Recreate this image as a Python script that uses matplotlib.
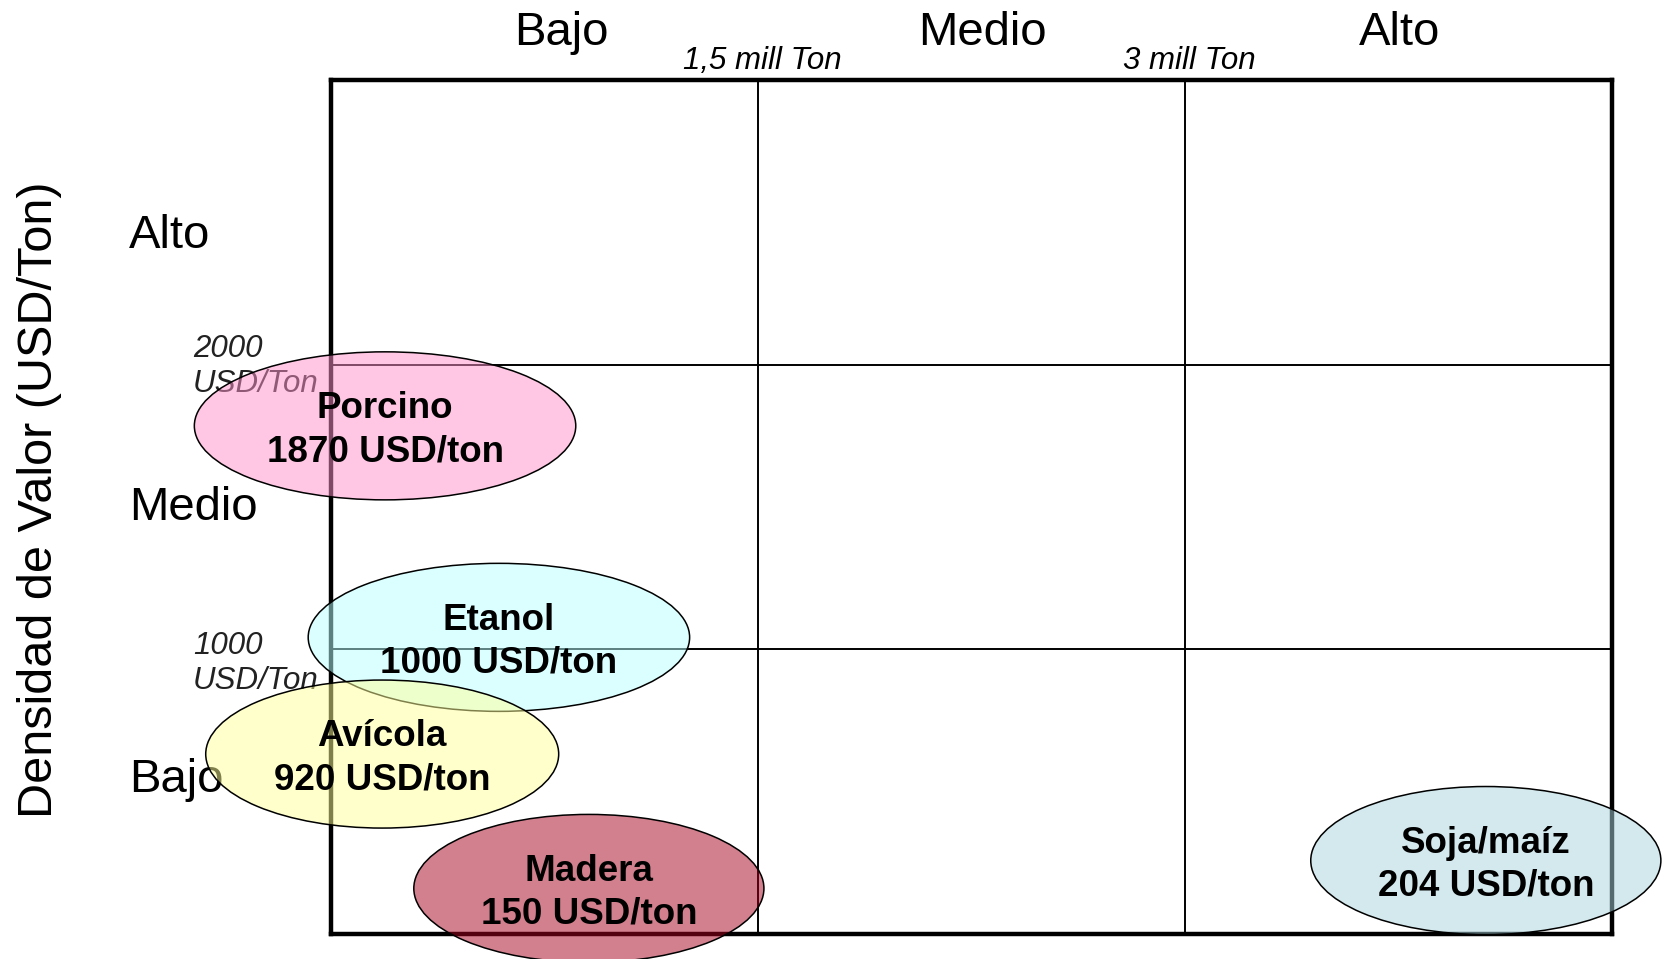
import matplotlib.pyplot as plt
from matplotlib.patches import Ellipse

plt.rcParams['font.family'] = ['Liberation Sans', 'DejaVu Sans']

# categorias de los ejes
niveles_x = ['Bajo', 'Medio', 'Alto']
niveles_y = ['Alto', 'Medio', 'Bajo']
cortes_x = [1.5, 3.0]
cortes_x_txt = ['1,5 mill Ton', '3 mill Ton']
cortes_y = [2000, 1000]
cortes_y_txt = ['2000\nUSD/Ton', '1000\nUSD/Ton']

# productos
productos = ['Porcino', 'Etanol', 'Avícola', 'Madera', 'Soja/maíz']
precios = [1870, 1000, 920, 150, 204]
volumen = [0.19, 0.59, 0.18, 0.906, 4.057]
densidad = [1785, 1042, 632, 160, 258]

anchos = [1.34, 1.34, 1.24, 1.23, 1.23]
colores = [(255, 145, 201), (185, 255, 255), (255, 255, 153), (167, 0, 30), (169, 213, 221)]

fig = plt.figure(figsize=(16.64, 9.59), dpi=100)
ax = fig.add_axes([0.1989, 0.0261, 0.7698, 0.8905])
ax.set_xlim(0, 4.5)
ax.set_ylim(0, 3000)
ax.set_xticks([])
ax.set_yticks([])
for s in ax.spines.values():
    s.set_linewidth(3.2)

for x in cortes_x:
    ax.axvline(x, color='black', lw=1.4, zorder=1)
for y in cortes_y:
    ax.axhline(y, color='black', lw=1.4, zorder=1)

# etiquetas de los ejes
for x, t in zip([0.81, 2.29, 3.755], niveles_x):
    ax.text(x, 3165, t, fontsize=34, ha='center', va='center', clip_on=False)
for y, t in zip([2453, 1496, 540], niveles_y):
    ax.text(-0.71, y, t, fontsize=34, ha='left', va='center', clip_on=False)
for x, t in zip(cortes_x, cortes_x_txt):
    ax.text(x + 0.015, 3067, t, fontsize=22.5, style='italic', ha='center', va='center', clip_on=False)
for y, t in zip([1993, 950], cortes_y_txt):
    ax.text(-0.485, y, t, fontsize=22.5, style='italic', ha='left',
            va='center', linespacing=1.23, color='#222222', clip_on=False, zorder=2)

fig.text(0.024, 0.479, 'Densidad de Valor (USD/Ton)', fontsize=35, rotation=90,
         ha='center', va='center')

for p, v, x, y, w, c in zip(productos, precios, volumen, densidad, anchos, colores):
    fc = (c[0] / 255, c[1] / 255, c[2] / 255, 0.5)
    e = Ellipse((x, y), w, 520, facecolor=fc, edgecolor='black', lw=1.1, zorder=3, clip_on=False)
    ax.add_patch(e)
    ax.text(x, y - 15, f'{p}\n{v} USD/ton', fontsize=26.5, fontweight='bold', ha='center',
            va='center', linespacing=1.3, zorder=4, clip_on=False)

fig.savefig('out.png', dpi=100)
